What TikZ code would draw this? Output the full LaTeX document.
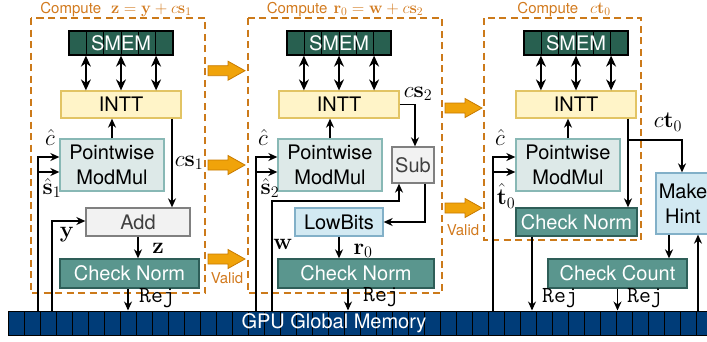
\RequirePackage{fix-cm}
\documentclass[tikz,border=0pt]{standalone}
\usepackage[no-math]{fontspec}
\setmainfont{TeX Gyre Heros}
\newfontfamily\rejfont{Latin Modern Mono}
\usetikzlibrary{arrows.meta,calc}

\definecolor{smemgreen}{RGB}{40,96,80}
\definecolor{inttfill}{RGB}{255,244,200}
\definecolor{inttdraw}{RGB}{226,196,100}
\definecolor{pwfill}{RGB}{221,233,232}
\definecolor{pwdraw}{RGB}{136,184,181}
\definecolor{grayfill}{RGB}{242,242,242}
\definecolor{graydraw}{RGB}{128,128,128}
\definecolor{graytext}{RGB}{64,64,64}
\definecolor{bluefill}{RGB}{210,233,242}
\definecolor{bluedraw}{RGB}{130,176,200}
\definecolor{normfill}{RGB}{90,150,142}
\definecolor{normdraw}{RGB}{46,94,88}
\definecolor{panelorange}{RGB}{204,122,26}
\definecolor{titleorange}{RGB}{210,122,30}
\definecolor{arrowfill}{RGB}{240,163,10}
\definecolor{arrowdraw}{RGB}{200,122,0}
\definecolor{barblue}{RGB}{0,60,120}

\tikzset{
  blk/.style={draw, line width=1.3pt, inner sep=0pt, align=center,
    font=\fontsize{20}{25}\selectfont},
  smembox/.style={blk, fill=smemgreen, draw=black, text=white,
    minimum width=104pt, minimum height=24pt,
    path picture={\foreach \k in {1,...,5}{
      \draw[line width=1pt]
        ($(path picture bounding box.north west)!\k/6!(path picture bounding box.north east)$) --
        ($(path picture bounding box.south west)!\k/6!(path picture bounding box.south east)$);}}},
  inttbox/.style={blk, fill=inttfill, draw=inttdraw, minimum width=120pt, minimum height=27pt},
  pwbox/.style={blk, fill=pwfill, draw=pwdraw, minimum width=104pt, minimum height=52pt},
  graybox/.style={blk, fill=grayfill, draw=graydraw, text=graytext},
  bluebox/.style={blk, fill=bluefill, draw=bluedraw},
  normbox/.style={blk, fill=normfill, draw=normdraw, text=white},
  barbox/.style={draw=black, line width=1pt, fill=barblue, inner sep=0pt,
    minimum width=704pt, minimum height=24pt,
    path picture={\foreach \k in {1,...,43}{
      \draw[line width=1pt]
        ($(path picture bounding box.north west)!\k/44!(path picture bounding box.north east)$) --
        ($(path picture bounding box.south west)!\k/44!(path picture bounding box.south east)$);}}},
  wire/.style={line width=1.3pt, -{Stealth[length=9pt,width=8pt]}},
  dbl/.style={line width=1.3pt, {Stealth[length=11pt,width=10pt]}-{Stealth[length=11pt,width=10pt]}},
  panel/.style={draw=panelorange, line width=2.2pt, dash pattern=on 7pt off 4.5pt},
  ttl/.style={text=titleorange, font=\fontsize{15}{17}\selectfont, inner sep=0pt},
  mlab/.style={font=\fontsize{23}{25}\selectfont, inner sep=0pt},
  rejlab/.style={inner sep=0pt, font={\rejfont\fontsize{23}{26}\selectfont}},
  flow/.pic={\draw[fill=arrowfill, draw=arrowdraw, line width=0.8pt]
    (0,-5) -- (20,-5) -- (20,-9.5) -- (37,0) -- (20,9.5) -- (20,5) -- (0,5) -- cycle;},
}
\newcommand\ttlmath[1]{{\fontsize{16.5}{19}\selectfont$#1$}}

\begin{document}
\begin{tikzpicture}[x=1pt,y=-1pt]
\useasboundingbox (0,0) rectangle (707,341);

% stage frames and titles
\draw[panel] (31,18) rectangle (205,293);
\draw[panel] (248,18) rectangle (442,293);
\draw[panel] (484,18) rectangle (641,240);
\node[ttl, anchor=base] (t1) at (116,13) {Compute\hspace{10pt}\ttlmath{\mathbf{z}=\mathbf{y}+c\mathbf{s}_1}};
\node[ttl, anchor=base] (t2) at (345,13) {Compute\hspace{6pt}\ttlmath{\mathbf{r}_0=\mathbf{w}+c\mathbf{s}_2}};
\node[ttl, anchor=base] (t3) at (564,13) {Compute\hspace{12pt}\ttlmath{c\mathbf{t}_0}};

% global memory
\node[barbox] (bar) at (360.3,323) {};
\node[text=white, font=\fontsize{20}{22}\selectfont, inner sep=0pt] (gputxt) at (334,323) {GPU Global Memory};

% ---------- stage 1 ----------
\node[smembox] (sm1) at (121,43) {SMEM};
\node[inttbox] (int1) at (121,104.5) {INTT};
\node[pwbox] (pw1) at (112,165) {Pointwise\\ModMul};
\node[graybox, minimum width=104pt, minimum height=28pt] (add1) at (138,222) {Add};
\node[normbox, minimum width=139pt, minimum height=29pt] (cn1) at (129.5,273.5) {Check Norm};

\foreach \f in {1,3,5}
  \draw[dbl] ($(sm1.south west)!\f/6!(sm1.south east)$) coordinate (d) -- (d |- int1.north);
\draw[wire] (pw1.north) -- (pw1.north |- int1.south);
\coordinate (cs1x) at (172,0);
\draw[wire] (int1.south -| cs1x) -- (add1.north -| cs1x);
\draw[wire] (add1.south) -- (add1.south |- cn1.north);
\coordinate (r1x) at (128,0);
\draw[wire] (cn1.south -| r1x) -- (bar.north -| r1x);
\coordinate (l1a) at (38,157);
\coordinate (l1b) at (38,172);
\coordinate (l1y) at (52,221);
\draw[wire] (bar.north -| l1a) -- (l1a) -- (l1a -| pw1.west);
\draw[wire] (l1b) -- (l1b -| pw1.west);
\draw[wire] (bar.north -| l1y) -- (l1y) -- (l1y -| add1.west);

\node[mlab] (c1) at (50,138) {$\hat{c}$};
\node[mlab] (s1) at (52,188) {$\hat{\mathbf{s}}_1$};
\node[mlab] (y1) at (67,235) {$\mathbf{y}$};
\node[mlab] (cs1) at (189,163) {$c\mathbf{s}_1$};
\node[mlab] (z1) at (158,248) {$\mathbf{z}$};
\node[rejlab] (rej1) at (157,298) {Rej};

% ---------- stage 2 ----------
\node[smembox] (sm2) at (339,43) {SMEM};
\node[inttbox] (int2) at (339,104.5) {INTT};
\node[pwbox] (pw2) at (330,165) {Pointwise\\ModMul};
\node[graybox, minimum width=42pt, minimum height=36pt] (sub) at (413,165) {Sub};
\node[bluebox, minimum width=88pt, minimum height=28pt] (lb) at (339,222) {LowBits};
\node[normbox, minimum width=156pt, minimum height=29pt] (cn2) at (356,273.5) {Check Norm};

\foreach \f in {1,3,5}
  \draw[dbl] ($(sm2.south west)!\f/6!(sm2.south east)$) coordinate (d) -- (d |- int2.north);
\draw[wire] (pw2.north) -- (pw2.north |- int2.south);
\coordinate (cs2x) at (415,0);
\draw[wire] (int2.east) -| (sub.north -| cs2x);
\coordinate (subx) at (425,0);
\draw[wire] (sub.south -| subx) |- (lb.east);
\coordinate (wx) at (272,201);
\coordinate (wsub) at (399,0);
\draw[wire] (bar.north -| wx) -- (wx) -| (sub.south -| wsub);
\draw[wire] (lb.south) -- (lb.south |- cn2.north);
\coordinate (r2x) at (348,0);
\draw[wire] (cn2.south -| r2x) -- (bar.north -| r2x);
\coordinate (l2a) at (256,157);
\coordinate (l2b) at (256,172);
\draw[wire] (bar.north -| l2a) -- (l2a) -- (l2a -| pw2.west);
\draw[wire] (l2b) -- (l2b -| pw2.west);

\node[mlab] (c2) at (263,138) {$\hat{c}$};
\node[mlab] (s2) at (270,188) {$\hat{\mathbf{s}}_2$};
\node[mlab] (w2) at (283,244) {$\mathbf{w}$};
\node[mlab] (cs2) at (418,94) {$c\mathbf{s}_2$};
\node[mlab] (r0) at (363,251) {$\mathbf{r}_0$};
\node[rejlab] (rej2) at (381,297) {Rej};

% ---------- stage 3 ----------
\node[smembox] (sm3) at (576,43) {SMEM};
\node[inttbox] (int3) at (576,104.5) {INTT};
\node[pwbox] (pw3) at (568,165) {Pointwise\\ModMul};
\node[normbox, minimum width=121pt, minimum height=28pt] (cn3) at (576.5,222) {Check Norm};
\node[bluebox, minimum width=54pt, minimum height=61pt] (mh) at (683,203.5) {Make\\Hint};
\node[normbox, minimum width=139pt, minimum height=29pt] (cc) at (617.5,273.5) {Check Count};

\foreach \f in {1,3,5}
  \draw[dbl] ($(sm3.south west)!\f/6!(sm3.south east)$) coordinate (d) -- (d |- int3.north);
\draw[wire] (pw3.north) -- (pw3.north |- int3.south);
\coordinate (ctx) at (628,0);
\coordinate (ctb) at (628,140);
\draw[wire] (int3.south -| ctx) -- (cn3.north -| ctx);
\coordinate (mhx) at (682,0);
\draw[wire] (ctb) -| (mh.north -| mhx);
\coordinate (r3x) at (532,0);
\draw[wire] (cn3.south -| r3x) -- (bar.north -| r3x);
\coordinate (mcx) at (669,0);
\draw[wire] (mh.south -| mcx) -- (cc.north -| mcx);
\draw[wire] (cc.south) -- (cc.south |- bar.north);
\coordinate (bmx) at (698,0);
\draw[wire] (bar.north -| bmx) -- (mh.south -| bmx);
\coordinate (l3a) at (493,157);
\coordinate (l3b) at (493,172);
\draw[wire] (bar.north -| l3a) -- (l3a) -- (l3a -| pw3.west);
\draw[wire] (l3b) -- (l3b -| pw3.west);

\node[mlab] (c3) at (500,138) {$\hat{c}$};
\node[mlab] (tt0) at (506,196) {$\hat{\mathbf{t}}_0$};
\node[mlab] (ct0) at (668,122) {$c\mathbf{t}_0$};
\node[rejlab] (rej3) at (560,298) {Rej};
\node[rejlab] (rej4) at (645,298) {Rej};

% hand-off arrows between stages
\pic at (208,70.7) {flow};
\pic at (208,165) {flow};
\pic at (208,259) {flow};
\pic at (445,108) {flow};
\pic at (445,208) {flow};
\node[ttl] (v1) at (227,278) {Valid};
\node[ttl] (v2) at (463,230) {Valid};
\end{tikzpicture}
\end{document}
